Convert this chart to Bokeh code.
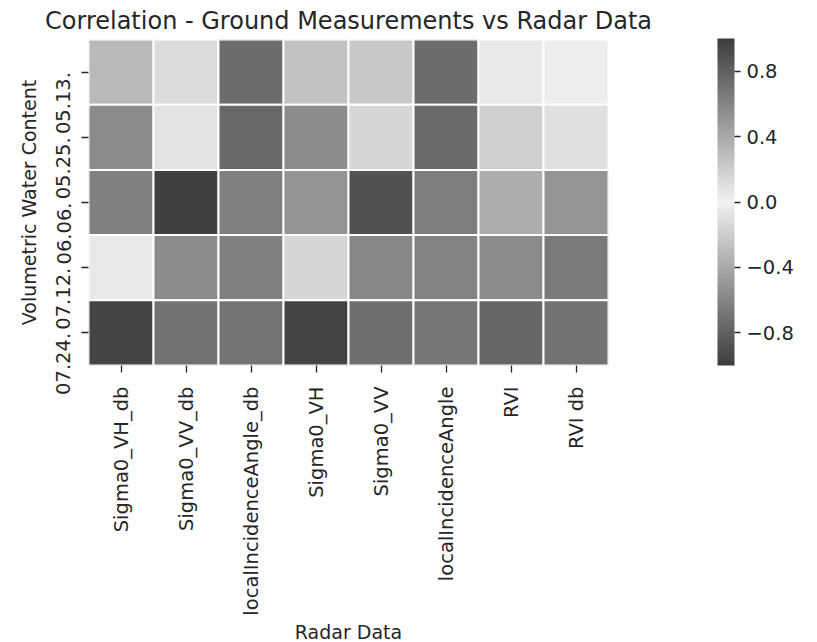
import math
from bokeh.plotting import figure
from bokeh.models import (ColumnDataSource, LinearColorMapper, ColorBar, FixedTicker,
                          CustomJSTickFormatter, FactorRange)
from bokeh.embed import file_html
from bokeh.resources import INLINE

# ---- data ----
radar_cols = ["Sigma0_VH_db", "Sigma0_VV_db", "localIncidenceAngle_db", "Sigma0_VH",
              "Sigma0_VV", "localIncidenceAngle", "RVI", "RVI db"]
dates = ["05.13.", "05.25.", "06.06.", "07.12.", "07.24."]
r_05_13 = [0.32, 0.12, -0.74, 0.26, 0.23, -0.73, 0.05, -0.03]
r_05_25 = [0.57, 0.08, -0.76, 0.56, 0.15, -0.75, -0.19, -0.10]
r_06_06 = [0.63, 0.97, -0.63, 0.52, 0.89, -0.64, -0.38, -0.51]
r_07_12 = [-0.05, 0.57, 0.63, 0.15, 0.59, 0.61, -0.57, -0.66]
r_07_24 = [0.96, 0.70, -0.69, 0.96, 0.72, -0.68, -0.77, -0.70]
cbar_ticks = [-0.8, -0.4, 0.0, 0.4, 0.8]

# tick labels sit below their tick (as in the original): pad with no-break spaces
pad = "\u00a0" * 10
date_factors = [d + pad for d in dates]

rows = [r_05_13, r_05_25, r_06_06, r_07_12, r_07_24]
xs, ys, vs = [], [], []
for d, row in zip(date_factors, rows):
    for c, v in zip(radar_cols, row):
        xs.append(c)
        ys.append(d)
        vs.append(v)
src = ColumnDataSource(dict(x=xs, y=ys, v=vs))

# diverging grey palette: dark - light - dark
dark, light = 61, 242
palette = []
for i in range(256):
    t = abs(i / 255 * 2 - 1)
    g = int(round(light - t * (light - dark)))
    palette.append("#%02x%02x%02x" % (g, g, g))
mapper = LinearColorMapper(palette=palette, low=-1, high=1)

FONT = "DejaVu Sans"
TXT = "#262626"

p = figure(frame_width=520, frame_height=326,
           x_range=FactorRange(*radar_cols),
           y_range=FactorRange(*list(reversed(date_factors))),
           output_backend="svg", toolbar_location=None,
           title="Correlation - Ground Measurements vs Radar Data",
           min_border_left=88, min_border_right=5, min_border_top=10, min_border_bottom=5)

p.rect(x="x", y="y", width=1, height=1, source=src,
       fill_color={"field": "v", "transform": mapper},
       line_color="white", line_width=2)

p.title.align = "center"
p.title.text_font = FONT
p.title.text_font_size = "24px"
p.title.text_font_style = "normal"
p.title.text_color = TXT
p.title.standoff = 9

p.grid.grid_line_color = None
p.outline_line_color = None
p.background_fill_color = "white"
p.border_fill_color = "white"

for ax in (p.xaxis[0], p.yaxis[0]):
    ax.axis_line_color = None
    ax.major_tick_out = 7
    ax.major_tick_in = 0
    ax.major_tick_line_color = TXT
    ax.major_tick_line_width = 1.3
    ax.major_label_text_font = FONT
    ax.major_label_text_font_size = "19.5px"
    ax.major_label_text_color = TXT
    ax.axis_label_text_font = FONT
    ax.axis_label_text_font_size = "19px"
    ax.axis_label_text_font_style = "normal"
    ax.axis_label_text_color = TXT

p.xaxis.major_label_orientation = math.pi / 2
p.yaxis.major_label_orientation = "vertical"
p.xaxis.axis_label = "Radar Data"
p.yaxis.axis_label = "Volumetric Water Content"
p.xaxis.major_label_standoff = 14
p.xaxis.axis_label_standoff = 2
p.yaxis.major_label_standoff = 6
p.yaxis.axis_label_standoff = 10

cb = ColorBar(color_mapper=mapper,
              ticker=FixedTicker(ticks=cbar_ticks),
              formatter=CustomJSTickFormatter(
                  code="return (tick < 0 ? '\u2212' : '') + Math.abs(tick).toFixed(1);"),
              width=17, height=327, padding=0, margin=0, location=(109, 0),
              major_tick_out=6, major_tick_in=0, major_tick_line_color=TXT,
              major_tick_line_width=1.3,
              minor_tick_line_color=None, bar_line_color=None,
              major_label_text_font=FONT, major_label_text_font_size="19.5px",
              major_label_text_color=TXT, label_standoff=6,
              background_fill_color=None)
p.add_layout(cb, "right")

open("out.html", "w").write(file_html(p, INLINE))
